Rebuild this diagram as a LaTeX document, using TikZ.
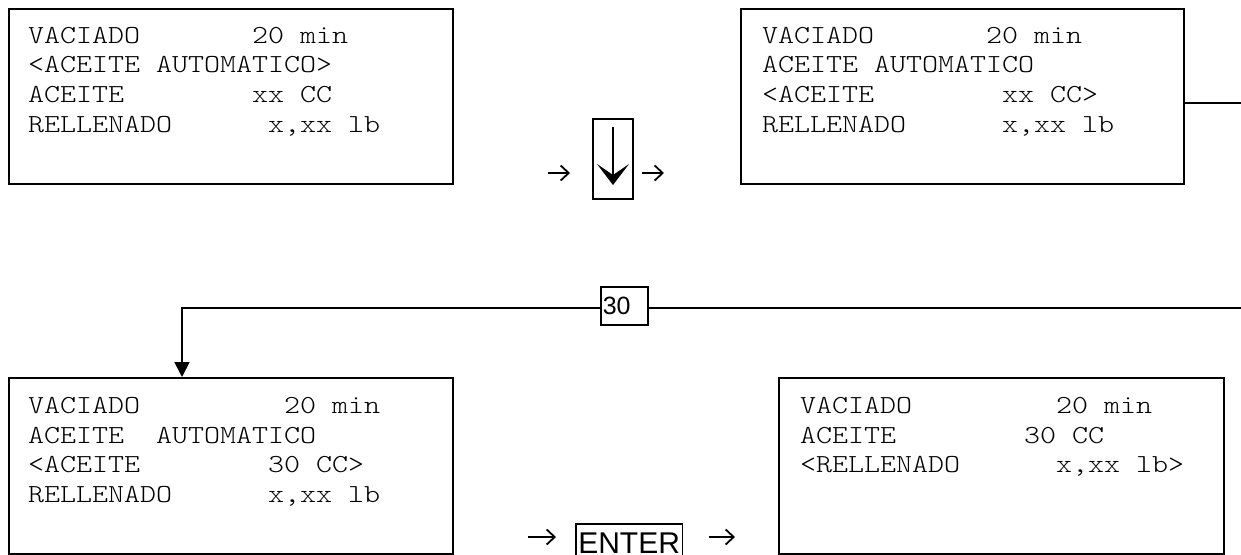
\documentclass[tikz,border=0pt]{standalone}
\usepackage{fontspec}
\setmainfont{Liberation Sans}
\newfontfamily\lcdfont{lmmonolt10-regular.otf}[FakeStretch=1.172]
\usetikzlibrary{arrows.meta,calc}

\begin{document}
\begin{tikzpicture}[x=1pt,y=-1pt,
  screen/.style={draw, line width=1.8pt, anchor=north west, inner sep=0pt},
  lcd/.style={anchor=north west, inner sep=0pt, align=left,
    font=\lcdfont\fontsize{26}{29.6}\selectfont},
  keybox/.style={draw, line width=1.6pt},
  flowarr/.style={line width=1.8pt, -{Straight Barb[length=8pt,width=15pt,line width=1.8pt]}},
  link/.style={line width=1.8pt}
]
\useasboundingbox (0,0) rectangle (1241,554);

% display screens
\node[screen, minimum width=444pt, minimum height=175pt] (s1) at (8,8) {};
\node[screen, minimum width=443pt, minimum height=175pt] (s2) at (740,8) {};
\node[screen, minimum width=444pt, minimum height=176pt] (s3) at (8,377) {};
\node[screen, minimum width=445pt, minimum height=176pt] (s4) at (778,377) {};

\node[lcd] (t1) at ($(s1.north west)+(20,19)$)
  {VACIADO~~~~~~~20~min\\<ACEITE~AUTOMATICO>\\ACEITE~~~~~~~~xx~CC\\RELLENADO~~~~~~x,xx~lb};
\node[lcd] (t2) at ($(s2.north west)+(22,19)$)
  {VACIADO~~~~~~~20~min\\ACEITE~AUTOMATICO\\<ACEITE~~~~~~~~xx~CC>\\RELLENADO~~~~~~x,xx~lb};
\node[lcd] (t3) at ($(s3.north west)+(20,20)$)
  {VACIADO~~~~~~~~~20~min\\ACEITE~~AUTOMATICO\\<ACEITE~~~~~~~~30~CC>\\RELLENADO~~~~~~x,xx~lb};
\node[lcd] (t4) at ($(s4.north west)+(22,20)$)
  {VACIADO~~~~~~~~~20~min\\ACEITE~~~~~~~~30~CC\\<RELLENADO~~~~~~x,xx~lb>};

% "down" key between the first two screens
\node[keybox, minimum width=40pt, minimum height=80pt, inner sep=0pt] (down) at (613,159) {};
\coordinate (dtop) at (613,127);
\coordinate (dtip) at (613,185);
\draw[line width=1.6pt, -{Stealth[length=21pt,width=32pt,inset=11pt]}] (dtop) -- (dtip);

\coordinate (p1) at (548,173); \coordinate (q1) at (570,173);
\coordinate (p2) at (642,173); \coordinate (q2) at (664,173);
\draw[flowarr] (p1) -- (q1);
\draw[flowarr] (p2) -- (q2);

% ENTER key between the last two screens
\node[keybox, anchor=north west, inner xsep=2.5pt, inner ysep=9pt,
  font=\fontsize{30}{30}\selectfont] (enter) at (575,523) {ENTER};
\coordinate (p3) at (528,537); \coordinate (q3) at (556,537);
\coordinate (p4) at (709,537); \coordinate (q4) at (735,537);
\draw[flowarr] (p3) -- (q3);
\draw[flowarr] (p4) -- (q4);

% value typed in
\node[keybox, anchor=north west, inner sep=2pt, text width=43pt, align=left,
  minimum height=38pt, font=\fontsize{25}{25}\selectfont] (k30) at (600,286) {30};

% flow links
\coordinate (e1) at (1241,103);
\coordinate (e2) at (1241,308);
\coordinate (turn) at (182,308);
\draw[link] (s2.east |- e1) -- (e1);
\draw[link] (e2) -- (k30.east |- e2);
\draw[link, -{Triangle[length=15pt,width=15pt]}] (k30.west |- e2) -- (turn) -- (s3.north -| turn);
\end{tikzpicture}
\end{document}
